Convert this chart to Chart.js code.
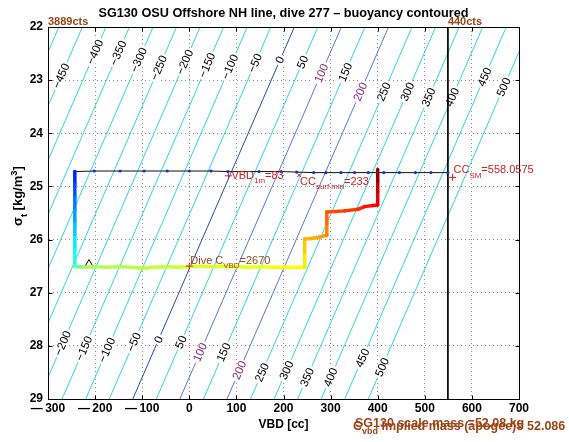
<!DOCTYPE html>
<html>
<head>
<meta charset="utf-8">
<script src="https://cdn.jsdelivr.net/npm/chart.js@4.4.1/dist/chart.umd.min.js"></script>
<style>
  html, body { margin: 0; padding: 0; background: #fff; }
  canvas { display: block; }
</style>
</head>
<body>
<canvas id="buoyChart" width="569" height="442"></canvas>
<script>
const FONT = "'Liberation Sans', Arial, Helvetica, sans-serif";

// axis ticks
const vbdTicks = [-300, -200, -100, 0, 100, 200, 300, 400, 500, 600, 700];
const sigmaTicks = [22, 23, 24, 25, 26, 27, 28, 29];

// buoyancy contours: level and the VBD where each one crosses sigma 22 and sigma 29
const contourLevels  = [-500, -450, -400, -350, -300, -250, -200, -150, -100, -50, 0, 50, 100, 150, 200, 250, 300, 350, 400, 450, 500];
const contourVbdAt22 = [-277, -227, -177, -127, -77, -27, 23, 73, 123, 173, 223, 273, 323, 373, 423, 473, 523, 573, 623, 673, 723];
const contourVbdAt29 = [-620, -570, -520, -470, -420, -370, -320, -270, -220, -170, -120, -70, -20, 30, 80, 130, 180, 230, 280, 330, 380];
// sigma where the inline labels sit (null = no label)
const labelSigmaTop    = [null, 22.92, 22.47, 22.49, 22.62, 22.77, 22.66, 22.72, 22.75, 22.68, 22.62, 22.66, 22.87, 22.85, 23.22, 23.22, 23.22, 23.32, 23.32, 22.94, 23.13];
const labelSigmaBottom = [null, null, null, null, null, null, 27.95, 28.05, 28.08, 27.93, 27.88, 27.93, 28.12, 28.12, 28.46, 28.50, 28.46, 28.59, 28.59, 28.23, 28.40];

// surface leg (black line with blue samples)
const topVbd   = [-243, -202, -147, -96, -47, 0, 46, 82, 148, 195, 228, 264, 290, 322, 351, 380, 413, 446, 480, 513, 549];
const topSigma = [24.72, 24.71, 24.71, 24.71, 24.71, 24.71, 24.71, 24.72, 24.72, 24.72, 24.73, 24.74, 24.74, 24.74, 24.74, 24.74, 24.74, 24.74, 24.74, 24.74, 24.74];

// dive path, coloured by fraction of dive time
const diveVbd = [-243, -243, -243, -243, -243, -243, -243, -243,
  -225, -200, -175, -150, -125, -100, -75, -50, -25, 0, 25, 50, 75, 100, 125, 150, 175, 200, 225, 245,
  245, 245, 260, 278, 292, 292, 292, 310, 330, 358, 372, 390, 400, 400, 400, 400];
const diveSigma = [24.72, 24.95, 25.2, 25.45, 25.7, 25.95, 26.2, 26.5,
  26.52, 26.51, 26.52, 26.51, 26.52, 26.54, 26.52, 26.51, 26.52, 26.51, 26.50, 26.51, 26.50, 26.51, 26.52, 26.51, 26.52, 26.52, 26.52, 26.52,
  26.25, 25.99, 25.98, 25.95, 25.92, 25.70, 25.48, 25.47, 25.46, 25.43, 25.38, 25.36, 25.35, 25.10, 24.90, 24.68];
const diveTime = [0.14, 0.18, 0.22, 0.26, 0.30, 0.34, 0.38, 0.42,
  0.535, 0.54, 0.545, 0.55, 0.555, 0.56, 0.565, 0.57, 0.575, 0.58, 0.585, 0.59, 0.595, 0.60, 0.605, 0.61, 0.615, 0.62, 0.625, 0.63,
  0.66, 0.69, 0.70, 0.715, 0.73, 0.76, 0.79, 0.80, 0.81, 0.83, 0.85, 0.87, 0.88, 0.92, 0.96, 1.0];

// markers
const plusVbd = [83, 559, 0];
const plusSigma = [24.80, 24.83, 26.50];
const surfMinVbd = [233];
const surfMinSigma = [24.79];
const apogeeVbd = [-213];
const apogeeSigma = [26.47];
const vbdLimit = 549;

function jet(t) {
  const c = v => Math.round(255 * Math.max(0, Math.min(1, v)));
  return 'rgb(' + c(1.5 - Math.abs(4 * t - 3)) + ',' + c(1.5 - Math.abs(4 * t - 2)) + ',' + c(1.5 - Math.abs(4 * t - 1)) + ')';
}
function contourColor(lev) {
  if (lev === 0) return '#2b4aa6';
  if (lev === 100 || lev === 200) return '#6272d2';
  return '#2bd6e0';
}
const pts = (xs, ys) => xs.map((v, i) => ({x: v, y: ys[i]}));

const datasets = contourLevels.map((lev, i) => ({
  data: [{x: contourVbdAt22[i], y: 22}, {x: contourVbdAt29[i], y: 29}],
  borderColor: contourColor(lev), borderWidth: 1, pointRadius: 0, order: 10
}));
datasets.push({
  data: [{x: vbdLimit, y: 22}, {x: vbdLimit, y: 29}],
  borderColor: '#000', borderWidth: 1, pointRadius: 0, order: 6
});
datasets.push({
  data: pts(apogeeVbd, apogeeSigma), showLine: false,
  pointStyle: 'triangle', pointRadius: 5, borderColor: '#000', borderWidth: 1,
  backgroundColor: 'rgba(0,0,0,0)', order: 5
});
datasets.push({
  data: pts(topVbd, topSigma),
  borderColor: '#111', borderWidth: 1, pointRadius: 1.6, pointBackgroundColor: '#1030e0',
  pointBorderColor: '#1030e0', pointBorderWidth: 0, order: 4
});
datasets.push({
  data: pts(diveVbd, diveSigma),
  borderWidth: 3.5, pointRadius: 0, borderJoinStyle: 'round', borderCapStyle: 'round',
  segment: { borderColor: c => jet((diveTime[c.p0DataIndex] + diveTime[c.p1DataIndex]) / 2) },
  order: 3
});
datasets.push({
  data: pts(plusVbd, plusSigma), showLine: false,
  pointStyle: 'cross', pointRadius: 3.5, borderColor: '#d02020', borderWidth: 1, order: 1
});
datasets.push({
  data: pts(surfMinVbd, surfMinSigma), showLine: false,
  pointStyle: 'crossRot', pointRadius: 2.5, borderColor: '#d02020', borderWidth: 1, order: 1
});

function rich(ctx, parts, x, y, size, color, weight) {
  ctx.fillStyle = color;
  ctx.textAlign = 'left';
  ctx.textBaseline = 'alphabetic';
  parts.forEach(p => {
    const s = p.sub || p.sup ? size * 0.72 : size;
    const dy = p.sub ? size * 0.38 : (p.sup ? -size * 0.42 : 0);
    ctx.font = (weight || '') + ' ' + s + 'px ' + FONT;
    ctx.fillText(p.t, x, y + dy);
    x += ctx.measureText(p.t).width;
  });
  return x;
}

function drawContourLabels(chart) {
  const {ctx, scales: {x, y}} = chart;
  ctx.save();
  ctx.font = '11.5px ' + FONT;
  ctx.textAlign = 'center';
  ctx.textBaseline = 'middle';
  contourLevels.forEach((lev, i) => {
    const dx = x.getPixelForValue(contourVbdAt22[i]) - x.getPixelForValue(contourVbdAt29[i]);
    const dy = y.getPixelForValue(22) - y.getPixelForValue(29);
    const ang = Math.atan2(dy, dx);
    [labelSigmaTop[i], labelSigmaBottom[i]].forEach(s => {
      if (s == null) return;
      const f = (s - 22) / 7;
      const vbd = contourVbdAt22[i] + (contourVbdAt29[i] - contourVbdAt22[i]) * f;
      const px = x.getPixelForValue(vbd), py = y.getPixelForValue(s);
      const txt = String(lev).replace('-', '\u2212');
      const w = ctx.measureText(txt).width;
      ctx.save();
      ctx.translate(px, py);
      ctx.rotate(ang);
      ctx.fillStyle = '#fff';
      ctx.fillRect(-w / 2 - 2, -5, w + 4, 10);
      ctx.fillStyle = (lev === 100 || lev === 200) ? '#8a2a78' : '#000';
      ctx.fillText(txt, 0, 0.5);
      ctx.restore();
    });
  });
  ctx.restore();
}

const decorations = {
  id: 'decorations',
  afterDatasetDraw(chart, args) {
    if (args.index === 0) drawContourLabels(chart);   // last contour drawn
  },
  afterDraw(chart) {
    const {ctx, chartArea: a, scales: {x, y}} = chart;
    ctx.save();
    // axes box and inward ticks
    ctx.strokeStyle = '#000';
    ctx.lineWidth = 1;
    const L = Math.round(a.left) + 0.5, R = Math.round(a.right) + 0.5;
    const T = Math.round(a.top) + 0.5, B = Math.round(a.bottom) + 0.5;
    ctx.strokeRect(L, T, R - L, B - T);
    ctx.beginPath();
    vbdTicks.forEach(v => {
      const px = Math.round(x.getPixelForValue(v)) + 0.5;
      ctx.moveTo(px, B); ctx.lineTo(px, B - 4);
      ctx.moveTo(px, T); ctx.lineTo(px, T + 4);
    });
    sigmaTicks.forEach(v => {
      const py = Math.round(y.getPixelForValue(v)) + 0.5;
      ctx.moveTo(L, py); ctx.lineTo(L + 4, py);
      ctx.moveTo(R, py); ctx.lineTo(R - 4, py);
    });
    ctx.stroke();

    // title
    ctx.fillStyle = '#000';
    ctx.font = 'bold 12.7px ' + FONT;
    ctx.textAlign = 'center';
    ctx.textBaseline = 'alphabetic';
    ctx.fillText('SG130 OSU Offshore NH line, dive 277 \u2013 buoyancy contoured', 283.5, 17);
    // x title
    ctx.font = 'bold 12px ' + FONT;
    ctx.fillText('VBD [cc]', (a.left + a.right) / 2, 428);
    // y title
    ctx.save();
    ctx.translate(22, 226);
    ctx.rotate(-Math.PI / 2);
    rich(ctx, [{t: '\u03c3'}, {t: 't', sub: true}, {t: ' [kg/m'}, {t: '3', sup: true}, {t: ']'}], 0, 0, 13, '#000', 'bold');
    ctx.restore();

    // count labels
    const brown = '#9c4416';
    ctx.font = 'bold 11px ' + FONT;
    ctx.fillStyle = brown;
    ctx.textAlign = 'left';
    ctx.fillText('3889cts', a.left, 25);
    ctx.fillText('440cts', x.getPixelForValue(vbdLimit), 25);

    // annotations
    const red = '#cc2020';
    let px = x.getPixelForValue(plusVbd[0]), py = y.getPixelForValue(plusSigma[0]);
    rich(ctx, [{t: 'VBD'}, {t: '1m', sub: true}, {t: '=83'}], px + 3, py + 3, 11, red);
    px = x.getPixelForValue(surfMinVbd[0]); py = y.getPixelForValue(surfMinSigma[0]);
    rich(ctx, [{t: 'CC'}, {t: 'surf min', sub: true}, {t: '=233'}], px + 1, py + 10, 11, red);
    px = x.getPixelForValue(plusVbd[1]); py = y.getPixelForValue(plusSigma[1]);
    rich(ctx, [{t: 'CC'}, {t: 'SM', sub: true}, {t: '=558.0575'}], px + 1, py - 4, 11, red);
    px = x.getPixelForValue(plusVbd[2]); py = y.getPixelForValue(plusSigma[2]);
    rich(ctx, [{t: 'Dive C'}, {t: 'VBD', sub: true}, {t: '=2670'}], px + 1, py - 2, 11, brown);

    // mass notes below the axis
    rich(ctx, [{t: 'SG130 scale mass =52.08 kg'}], 355, 427, 12.5, brown, 'bold');
    rich(ctx, [{t: 'C'}, {t: 'vbd', sub: true}, {t: ' implied mass (apogee)= 52.086'}], 353, 429.5, 12.5, brown, 'bold');
    ctx.restore();
  }
};

const tickFont = {family: FONT, size: 12, weight: 'bold'};
new Chart(document.getElementById('buoyChart'), {
  type: 'line',
  data: { datasets: datasets },
  options: {
    responsive: false,
    animation: false,
    layout: { padding: { top: 27, right: 50, left: 0, bottom: 0 } },
    plugins: { legend: { display: false }, tooltip: { enabled: false }, title: { display: false } },
    scales: {
      x: {
        type: 'linear', min: -300, max: 700,
        afterBuildTicks: s => { s.ticks = vbdTicks.map(v => ({value: v})); },
        afterFit: s => { s.height = 43; },
        ticks: { font: tickFont, color: '#000', padding: 2, maxRotation: 0,
          callback: v => String(v).replace('-', '\u2014\u2009') },
        grid: { color: '#8c8c8c', lineWidth: 1, drawTicks: false },
        border: { display: true, color: '#000', dash: [1, 3] }
      },
      y: {
        type: 'linear', min: 22, max: 29, reverse: true,
        afterBuildTicks: s => { s.ticks = sigmaTicks.map(v => ({value: v})); },
        afterFit: s => { s.width = 48; },
        ticks: { font: tickFont, color: '#000', padding: 5 },
        grid: { color: '#8c8c8c', lineWidth: 1, drawTicks: false },
        border: { display: true, color: '#000', dash: [1, 3] }
      }
    }
  },
  plugins: [decorations]
});
</script>
</body>
</html>
